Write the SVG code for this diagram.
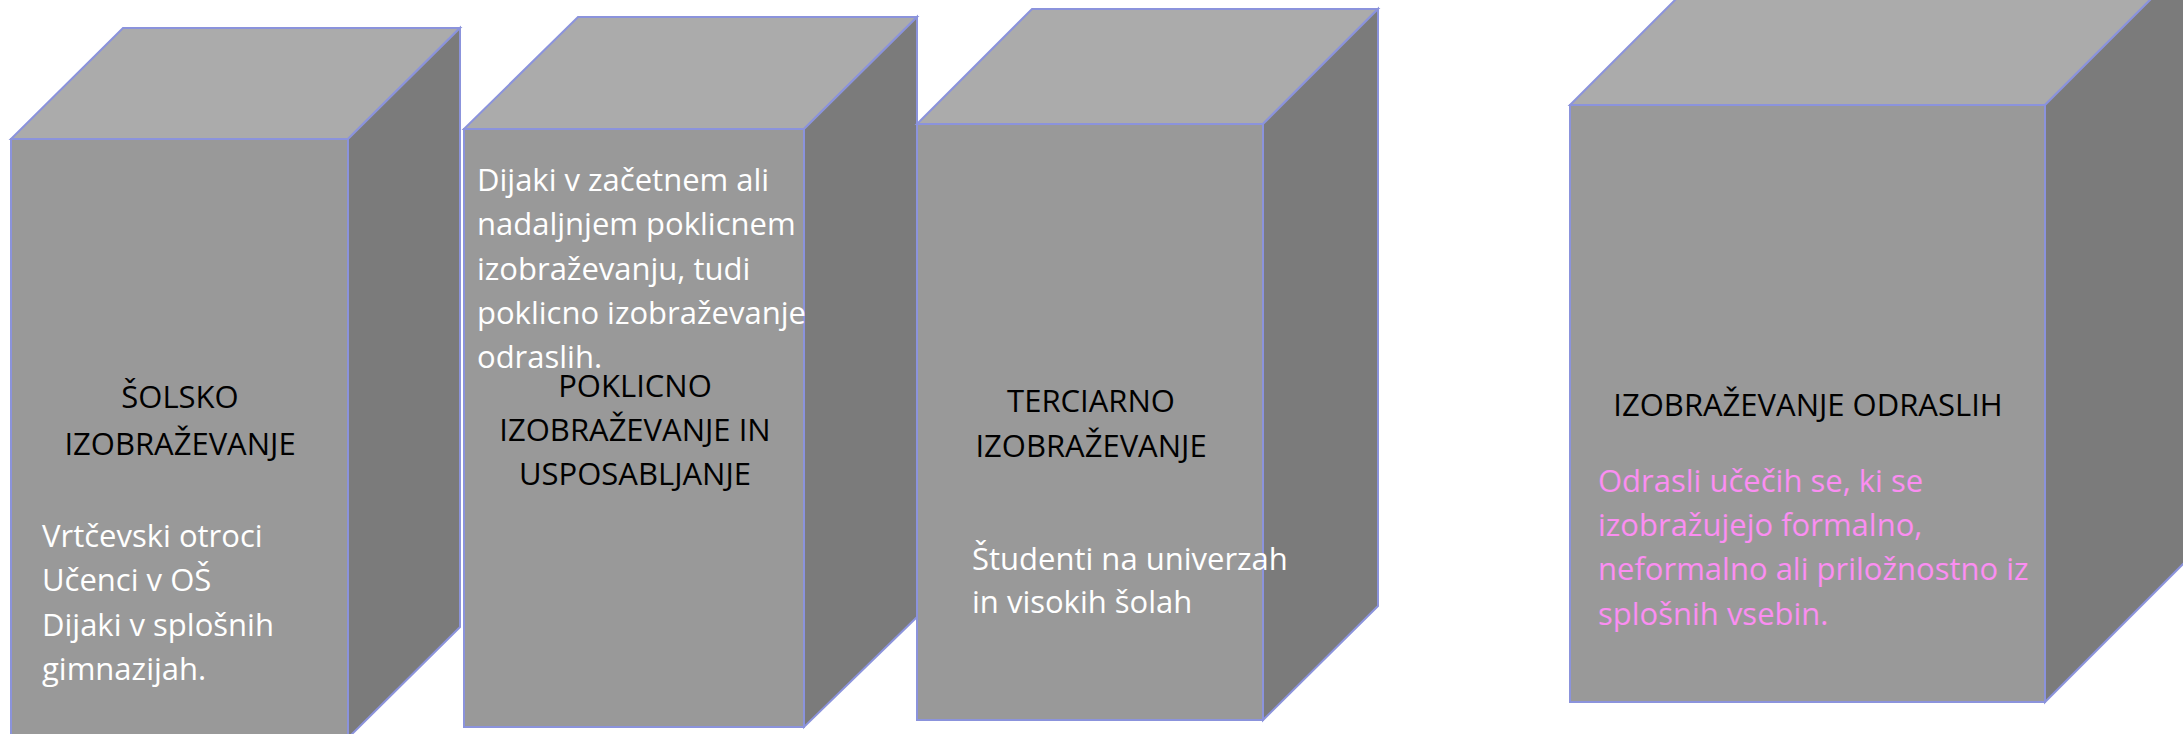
<svg xmlns="http://www.w3.org/2000/svg" width="2183" height="734" viewBox="0 0 2183 734">
  <style>
    .front { fill: #999999; stroke: #8b93dc; stroke-width: 2; stroke-linejoin: miter; }
    .top { fill: #ababab; stroke: #8b93dc; stroke-width: 2; }
    .side { fill: #7b7b7b; stroke: #8b93dc; stroke-width: 2; }
    .title { font-family: "Open Sans", "DejaVu Sans", sans-serif; font-size: 31px; fill: #000000; text-anchor: middle; }
    .body { font-family: "Open Sans", "DejaVu Sans", sans-serif; font-size: 31px; fill: #ffffff; }
    .pink { fill: #fb8ef2; }
  </style>
  <rect x="0" y="0" width="2183" height="734" fill="#ffffff"/>

  <g id="cube-solsko">
    <polygon class="top" points="11,139 123,28 460,28 348,139"/>
    <polygon class="side" points="348,139 460,28 460,627 348,738"/>
    <rect class="front" x="11" y="139" width="337" height="599"/>
    <text class="title" x="180" y="408">ŠOLSKO</text>
    <text class="title" x="180" y="455">IZOBRAŽEVANJE</text>
    <text class="body" x="42" y="547">Vrtčevski otroci</text>
    <text class="body" x="42" y="591">Učenci v OŠ</text>
    <text class="body" x="42" y="636">Dijaki v splošnih</text>
    <text class="body" x="42" y="680">gimnazijah.</text>
  </g>

  <g id="cube-poklicno">
    <polygon class="top" points="464,129 578,17 917,17 804,129"/>
    <polygon class="side" points="804,129 917,17 917,617 804,727"/>
    <rect class="front" x="464" y="129" width="340" height="598"/>
    <text class="body" x="477" y="191">Dijaki v začetnem ali</text>
    <text class="body" x="477" y="235">nadaljnjem poklicnem</text>
    <text class="body" x="477" y="280">izobraževanju, tudi</text>
    <text class="body" x="477" y="324">poklicno izobraževanje</text>
    <text class="body" x="477" y="368">odraslih.</text>
    <text class="title" x="635" y="397">POKLICNO</text>
    <text class="title" x="635" y="441">IZOBRAŽEVANJE IN</text>
    <text class="title" x="635" y="485">USPOSABLJANJE</text>
  </g>

  <g id="cube-terciarno">
    <polygon class="top" points="917,124 1032,9 1378,9 1263,124"/>
    <polygon class="side" points="1263,124 1378,9 1378,606 1263,720"/>
    <rect class="front" x="917" y="124" width="346" height="596"/>
    <text class="title" x="1091" y="412">TERCIARNO</text>
    <text class="title" x="1091" y="457">IZOBRAŽEVANJE</text>
    <text class="body" x="972" y="570">Študenti na univerzah</text>
    <text class="body" x="972" y="613">in visokih šolah</text>
  </g>

  <g id="cube-odrasli">
    <polygon class="top" points="1570,105 1720,-45 2195,-45 2045,105"/>
    <polygon class="side" points="2045,105 2195,-45 2195,552 2045,702"/>
    <rect class="front" x="1570" y="105" width="475" height="597"/>
    <text class="title" x="1808" y="416">IZOBRAŽEVANJE ODRASLIH</text>
    <text class="body pink" x="1598" y="492">Odrasli učečih se, ki se</text>
    <text class="body pink" x="1598" y="536">izobražujejo formalno,</text>
    <text class="body pink" x="1598" y="580">neformalno ali priložnostno iz</text>
    <text class="body pink" x="1598" y="625">splošnih vsebin.</text>
  </g>

  <g id="connectors"></g>
</svg>
